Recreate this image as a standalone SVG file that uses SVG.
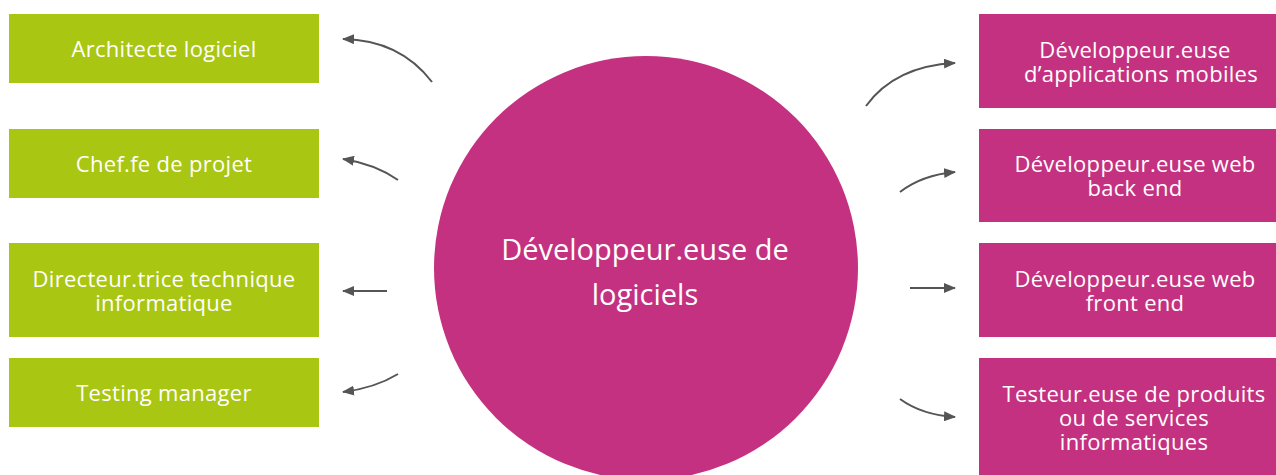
<svg xmlns="http://www.w3.org/2000/svg" width="1276" height="475" viewBox="0 0 1276 475">
<defs>
<marker id="ah" markerWidth="12" markerHeight="10" refX="11" refY="5" orient="auto" markerUnits="userSpaceOnUse">
<path d="M0,0 L12,5 L0,10 Z" fill="#555555"/>
</marker>
<style>
.g{fill:#a9c613}
.m{fill:#c43180}
.t{font-family:"Open Sans","Noto Sans",sans-serif;font-size:22px;letter-spacing:0.3px;fill:#ffffff;text-anchor:middle}
.c{font-family:"Open Sans","Noto Sans",sans-serif;font-size:29px;fill:#ffffff;text-anchor:middle}
.a{fill:none;stroke:#555555;stroke-width:2;marker-end:url(#ah)}
</style>
</defs>
<rect width="1276" height="475" fill="#ffffff"/>
<g id="center">
<circle class="m" cx="646" cy="268" r="212"/>
<text class="c" x="645" y="260">Développeur.euse de</text>
<text class="c" x="645" y="305">logiciels</text>
</g>
<g id="n-architecte"><rect class="g" x="9" y="14" width="310" height="69"/><text class="t" x="164" y="57">Architecte logiciel</text></g>
<g id="n-chef"><rect class="g" x="9" y="129" width="310" height="69"/><text class="t" x="164" y="172">Chef.fe de projet</text></g>
<g id="n-directeur"><rect class="g" x="9" y="243" width="310" height="94"/><text class="t" x="164" y="287">Directeur.trice technique</text><text class="t" x="164" y="311">informatique</text></g>
<g id="n-testing"><rect class="g" x="9" y="358" width="310" height="69"/><text class="t" x="164" y="401">Testing manager</text></g>
<g id="n-mobile"><rect class="m" x="979" y="14" width="297" height="94"/><text class="t" x="1135" y="58">Développeur.euse</text><text class="t" x="1141" y="82">d’applications mobiles</text></g>
<g id="n-back"><rect class="m" x="979" y="129" width="297" height="93"/><text class="t" x="1135" y="172">Développeur.euse web</text><text class="t" x="1135" y="196">back end</text></g>
<g id="n-front"><rect class="m" x="979" y="243" width="297" height="94"/><text class="t" x="1135" y="287">Développeur.euse web</text><text class="t" x="1135" y="311">front end</text></g>
<g id="n-testeur"><rect class="m" x="979" y="358" width="297" height="117"/><text class="t" x="1134" y="402">Testeur.euse de produits</text><text class="t" x="1134" y="426">ou de services</text><text class="t" x="1134" y="450">informatiques</text></g>
<g id="connectors">
<path class="a" d="M432,82 Q400,40 343,39"/>
<path class="a" d="M398,180 Q375,164 343,159"/>
<path class="a" d="M387,291 L343,291"/>
<path class="a" d="M398,374 Q375,388 343,392"/>
<path class="a" d="M866,106 Q895,66 955,63"/>
<path class="a" d="M900,192 Q922,175 955,172"/>
<path class="a" d="M910,288 L955,288"/>
<path class="a" d="M900,399 Q922,415 955,417"/>
</g>
</svg>
